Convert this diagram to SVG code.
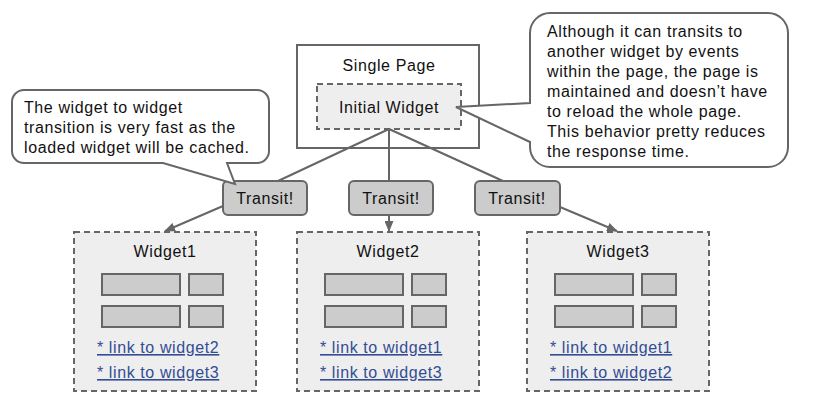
<svg xmlns="http://www.w3.org/2000/svg" width="814" height="412" viewBox="0 0 814 412">
<style>
text{font-family:"Liberation Sans",Arial,sans-serif;font-size:16px;letter-spacing:0.6px;fill:#111}
.c{text-anchor:middle}
.box{fill:#fff;stroke:#666;stroke-width:2}
.dash{fill:#eee;stroke:#666;stroke-width:2;stroke-dasharray:6 4}
.tr{fill:#ccc;stroke:#666;stroke-width:2}
.blk{fill:#ccc;stroke:#666;stroke-width:2}
.call{fill:#fff;stroke:#666;stroke-width:2;stroke-linejoin:miter}
.edge{stroke:#666;stroke-width:2;fill:none}
.link{fill:#334d94;text-decoration:underline}
</style>
<defs>
<marker id="ah" markerUnits="userSpaceOnUse" markerWidth="11" markerHeight="9" refX="10" refY="4.5" orient="auto">
<path d="M0,0 L11,4.5 L0,9 Z" fill="#666"/>
</marker>
</defs>
<rect width="814" height="412" fill="#fff"/>
<g id="single-page">
<rect class="box" x="297" y="45" width="182" height="103"/>
<text class="c" x="389" y="71">Single Page</text>
</g>
<g id="initial-widget">
<rect class="dash" x="317" y="84" width="144" height="45"/>
<text class="c" x="389" y="113">Initial Widget</text>
</g>
<g id="connectors">
<line class="edge" x1="389" y1="129" x2="278" y2="181"/>
<line class="edge" x1="389" y1="129" x2="389" y2="181"/>
<line class="edge" x1="389" y1="129" x2="503" y2="181"/>
<line class="edge" x1="223" y1="206" x2="165" y2="231" marker-end="url(#ah)"/>
<line class="edge" x1="389" y1="215" x2="389" y2="231" marker-end="url(#ah)"/>
<line class="edge" x1="560" y1="207" x2="617" y2="231" marker-end="url(#ah)"/>
</g>
<g id="transit1">
<rect class="tr" x="223" y="181" width="84" height="34" rx="5"/>
<text class="c" x="265" y="204">Transit!</text>
</g>
<g id="transit2">
<rect class="tr" x="349" y="181" width="84" height="34" rx="5"/>
<text class="c" x="391" y="204">Transit!</text>
</g>
<g id="transit3">
<rect class="tr" x="475" y="181" width="85" height="34" rx="5"/>
<text class="c" x="517" y="204">Transit!</text>
</g>
<g id="callout-left">
<path class="call" d="M24,90 H257 A12,12 0 0 1 269,102 V151 A12,12 0 0 1 257,163 H227 L235,184 L163,163 H24 A12,12 0 0 1 12,151 V102 A12,12 0 0 1 24,90 Z"/>
<text x="24" y="113">The widget to widget</text>
<text x="24" y="133">transition is very fast as the</text>
<text x="24" y="153">loaded widget will be cached.</text>
</g>
<g id="callout-right">
<path class="call" d="M550,13 H768 A20,20 0 0 1 788,33 V147 A20,20 0 0 1 768,167 H550 A20,20 0 0 1 530,147 V142 L456,107 L530,103 V33 A20,20 0 0 1 550,13 Z"/>
<text x="547" y="37">Although it can transits to</text>
<text x="547" y="57">another widget by events</text>
<text x="547" y="77">within the page, the page is</text>
<text x="547" y="97">maintained and doesn’t have</text>
<text x="547" y="117">to reload the whole page.</text>
<text x="547" y="137">This behavior pretty reduces</text>
<text x="547" y="157">the response time.</text>
</g>
<g id="widget1">
<rect class="dash" x="74" y="232" width="182" height="159"/>
<text class="c" x="165" y="257">Widget1</text>
<rect class="blk" x="102" y="274" width="78" height="21"/>
<rect class="blk" x="189" y="274" width="34" height="21"/>
<rect class="blk" x="102" y="306" width="78" height="21"/>
<rect class="blk" x="189" y="306" width="34" height="21"/>
<text class="link" x="97" y="353">* link to widget2</text>
<text class="link" x="97" y="378">* link to widget3</text>
</g>
<g id="widget2">
<rect class="dash" x="297" y="232" width="182" height="159"/>
<text class="c" x="388" y="257">Widget2</text>
<rect class="blk" x="325" y="274" width="78" height="21"/>
<rect class="blk" x="412" y="274" width="34" height="21"/>
<rect class="blk" x="325" y="306" width="78" height="21"/>
<rect class="blk" x="412" y="306" width="34" height="21"/>
<text class="link" x="320" y="353">* link to widget1</text>
<text class="link" x="320" y="378">* link to widget3</text>
</g>
<g id="widget3">
<rect class="dash" x="527" y="232" width="182" height="159"/>
<text class="c" x="618" y="257">Widget3</text>
<rect class="blk" x="555" y="274" width="78" height="21"/>
<rect class="blk" x="642" y="274" width="34" height="21"/>
<rect class="blk" x="555" y="306" width="78" height="21"/>
<rect class="blk" x="642" y="306" width="34" height="21"/>
<text class="link" x="550" y="353">* link to widget1</text>
<text class="link" x="550" y="378">* link to widget2</text>
</g>
</svg>
